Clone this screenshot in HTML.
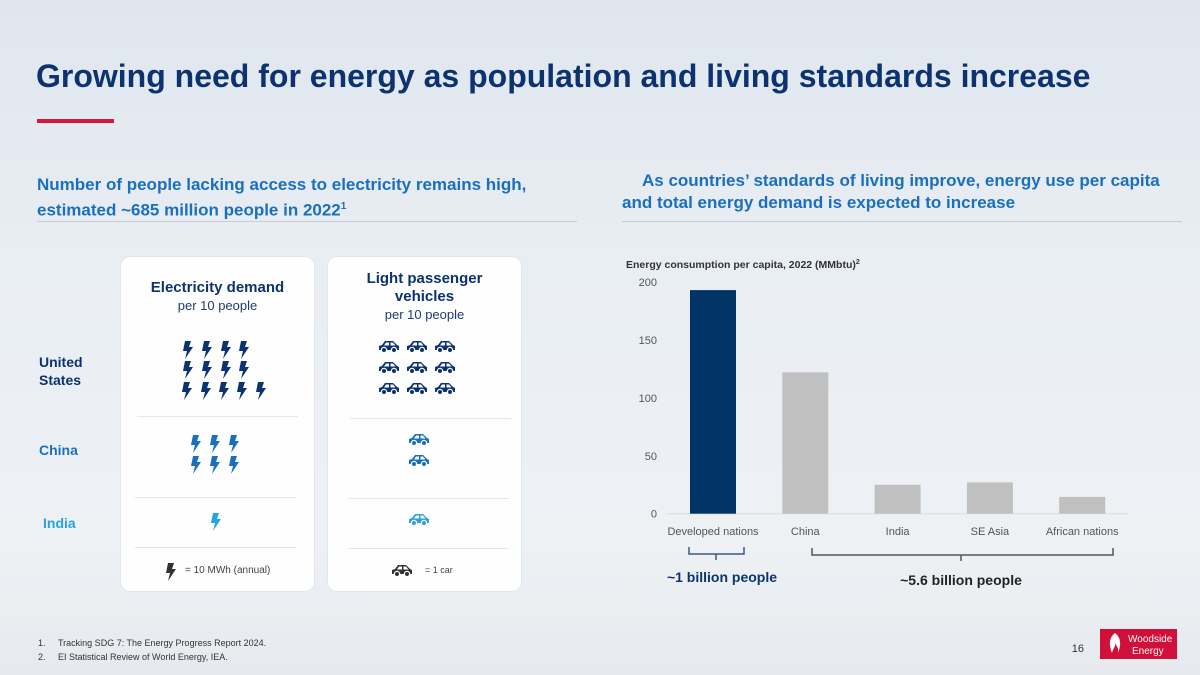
<!DOCTYPE html>
<html><head><meta charset="utf-8"><style>
*{margin:0;padding:0;box-sizing:border-box}
body{width:1200px;height:675px;overflow:hidden;font-family:"Liberation Sans",sans-serif;background:linear-gradient(180deg,#dfe6ee 0%,#e9eef3 40%,#eef1f4 80%,#e6eaee 100%);position:relative}
.abs{position:absolute}
h1{position:absolute;left:36px;top:58px;font-size:32px;color:#0d3270;font-weight:bold;letter-spacing:0px;white-space:nowrap}
.sub{color:#1a6fc0;font-weight:bold;font-size:17px;line-height:22px;white-space:nowrap}
.card{position:absolute;background:rgba(255,255,255,0.93);border-radius:10px;border:1px solid #e2e6ea}
.ctitle{position:absolute;width:100%;text-align:center;color:#0d3270;font-weight:bold;font-size:15px;line-height:18px}
.csub{font-weight:normal;color:#1d3d6e;font-size:13px}
.sep{position:absolute;height:1px;background:#e4e7eb}
.rl{position:absolute;font-weight:bold;font-size:14px;line-height:18px}
.fn{position:absolute;font-size:9px;color:#333}
</style></head><body>
<h1>Growing need for energy as population and living standards increase</h1>
<div class="abs" style="left:37px;top:119px;width:77px;height:4px;background:#d4193c"></div>
<div class="abs sub" style="left:37px;top:174px">Number of people lacking access to electricity remains high,<br>estimated ~685 million people in 2022<sup style="font-size:10px">1</sup></div>
<div class="abs" style="left:37px;top:221px;width:540px;height:1px;background:#c9ced4"></div>
<div class="abs sub" style="left:642px;top:170px">As countries’ standards of living improve, energy use per capita</div>
<div class="abs sub" style="left:622px;top:192px">and total energy demand is expected to increase</div>
<div class="abs" style="left:622px;top:221px;width:560px;height:1px;background:#c9ced4"></div>

<div class="rl" style="left:39px;top:353px;color:#0d3270">United<br>States</div>
<div class="rl" style="left:39px;top:441px;color:#1a6fc0">China</div>
<div class="rl" style="left:43px;top:514px;color:#27a3e0">India</div>

<div class="card" style="left:120px;top:256px;width:195px;height:336px">
 <div class="ctitle" style="top:22px">Electricity demand<br><span class="csub">per 10 people</span></div>
 <div class="sep" style="left:16px;right:16px;top:159px"></div>
 <div class="sep" style="left:14px;right:18px;top:240px"></div>
 <div class="sep" style="left:14px;right:18px;top:290px"></div>
 <div id="bolts"></div>
 <div class="abs" style="left:64px;top:308px;font-size:10px;color:#444">= 10 MWh (annual)</div>
</div>
<div class="card" style="left:327px;top:256px;width:195px;height:336px">
 <div class="ctitle" style="top:13px">Light passenger<br>vehicles<br><span class="csub">per 10 people</span></div>
 <div class="sep" style="left:22px;right:10px;top:161px"></div>
 <div class="sep" style="left:20px;right:12px;top:241px"></div>
 <div class="sep" style="left:20px;right:12px;top:291px"></div>
 <div id="cars"></div>
 <div class="abs" style="left:97px;top:308px;font-size:9px;color:#444">= 1 car</div>
</div>

<svg class="abs" style="left:0;top:0" width="1200" height="675" id="svg">
 <text x="626" y="268" font-size="10.5" font-weight="bold" fill="#333" font-family="Liberation Sans">Energy consumption per capita, 2022 (MMbtu)<tspan dy="-4" font-size="7">2</tspan></text>
 <g id="chart"></g>
 <path d="M689,547 v7 h55 v-7 M716,554 v6" stroke="#3a5a80" stroke-width="1.5" fill="none"/>
 <path d="M812,548 v7 h301 v-7 M961,555 v6" stroke="#555" stroke-width="1.5" fill="none"/>
 <text x="722" y="582" text-anchor="middle" font-size="14" font-weight="bold" fill="#0d3270" font-family="Liberation Sans">~1 billion people</text>
 <text x="961" y="585" text-anchor="middle" font-size="14" font-weight="bold" fill="#222" font-family="Liberation Sans">~5.6 billion people</text>
 <text x="1084" y="652" text-anchor="end" font-size="11" fill="#333" font-family="Liberation Sans">16</text>
 <g>
 <rect x="1100" y="629" width="77" height="30" fill="#d0103a"/>
 <path d="M1115,633 c-5,4 -7,10 -3,20 c1,-5 4,-6 3,-10 c2,4 4,5 3,10 c4,-10 2,-16 -3,-20z" fill="#fff"/>
 <text x="1128" y="642" font-size="10" fill="#fff" font-family="Liberation Sans">Woodside</text>
 <text x="1132" y="654" font-size="10" fill="#fff" font-family="Liberation Sans">Energy</text>
 </g>
</svg>
<div class="fn" style="left:38px;top:638px">1.&nbsp;&nbsp;&nbsp;&nbsp;&nbsp;Tracking SDG 7: The Energy Progress Report 2024.</div>
<div class="fn" style="left:38px;top:652px">2.&nbsp;&nbsp;&nbsp;&nbsp;&nbsp;EI Statistical Review of World Energy, IEA.</div>

<script>
const categories=["Developed nations","China","India","SE Asia","African nations"];
const values=[193,122,25,27,14.5];
const ticks=[0,50,100,150,200];
const NS="http://www.w3.org/2000/svg";
const y=v=>513.7-v*(231.7/200);
const x=i=>713+i*92.3;
const g=document.getElementById('chart');
function el(t,a){const e=document.createElementNS(NS,t);for(const k in a)e.setAttribute(k,a[k]);g.appendChild(e);return e;}
ticks.forEach(t=>{const e=el('text',{x:657,y:y(t)+4,'text-anchor':'end','font-size':11,fill:'#555','font-family':'Liberation Sans'});e.textContent=t;

});
el('line',{x1:667,x2:1128,y1:y(0),y2:y(0),stroke:'#d8dce0'});
values.forEach((v,i)=>{const r=el('rect',{x:x(i)-23,y:y(v),width:46,height:y(0)-y(v),fill:i==0?'#003366':'#c0c0c0'});


const t=el('text',{x:x(i),y:535,'text-anchor':'middle','font-size':11,fill:'#555','font-family':'Liberation Sans'});t.textContent=categories[i];

});

const bolt='<svg width="11" height="18" viewBox="0 0 11 18"><path d="M3,0 h6 l-2,6 h4 l-8,12 l2,-8 h-4z" fill="C"/></svg>';
const car='<svg width="22" height="13" viewBox="0 0 22 13"><path d="M1,10 v-4 l3,-1 l3,-4 h8 l4,4 l2,1 v4z" fill="C"/><circle cx="6" cy="10" r="2.6" fill="C" stroke="#fff" stroke-width="1.2"/><circle cx="16" cy="10" r="2.6" fill="C" stroke="#fff" stroke-width="1.2"/><path d="M8,2.5 h3 v3 h-5z M12.5,2.5 h2.5 l2.5,3 h-5z" fill="#fff"/></svg>';
function place(id,ox,oy,items){const c=document.getElementById(id);items.forEach(([px,py,svg,col])=>{const d=document.createElement('div');d.style.cssText='position:absolute;left:'+(px-ox)+'px;top:'+(py-oy)+'px';d.innerHTML=svg.replace(/C/g,col);

c.appendChild(d);});}
let b=[];
[[182,341],[201,341],[220,341],[238,341],[182,361],[201,361],[220,361],[238,361],[181,382],[200,382],[218,382],[236,382],[255,382]].forEach(p=>b.push([p[0],p[1],bolt,'#0d3270']));
[[190,435],[209,435],[228,435],[190,456],[209,456],[228,456]].forEach(p=>b.push([p[0],p[1],bolt,'#1a6fc0']));
b.push([210,513,bolt,'#27a3e0']);b.push([165,563,bolt,'#333']);
place('bolts',121,257,b);
let c=[];
[[378,340],[406,340],[434,340],[378,361],[406,361],[434,361],[378,382],[406,382],[434,382]].forEach(p=>c.push([p[0],p[1],car,'#0d3270']));
[[408,433],[408,454]].forEach(p=>c.push([p[0],p[1],car,'#1a6fc0']));
c.push([408,513,car,'#27a3e0']);c.push([391,564,car,'#333']);
place('cars',328,257,c);
</script>
</body></html>
